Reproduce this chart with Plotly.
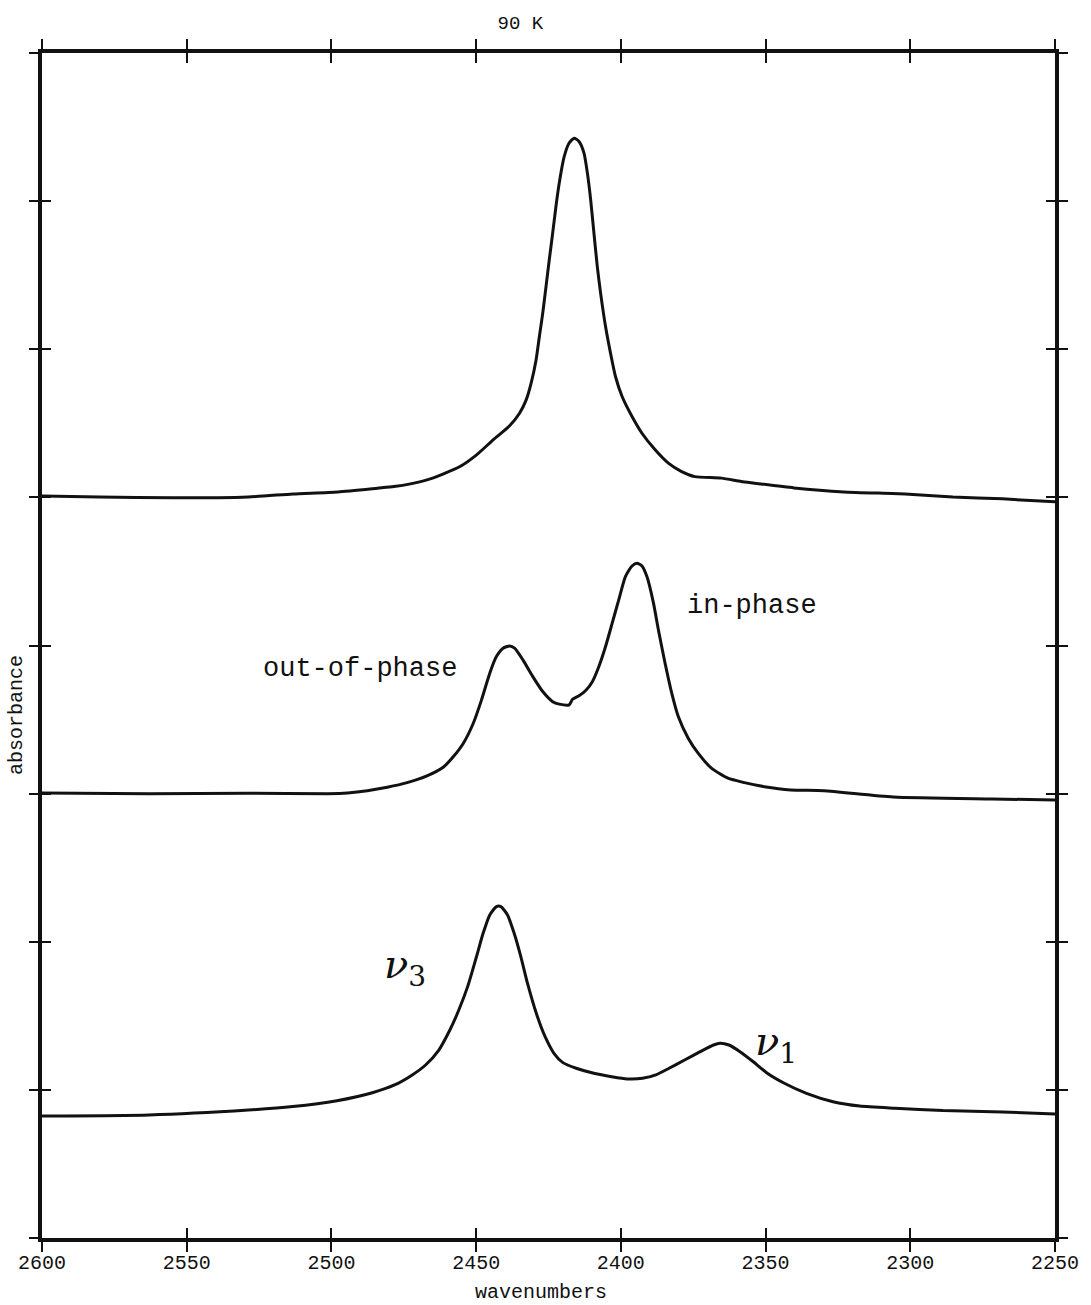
import plotly.graph_objects as go

# Spectra at 90 K, stacked with vertical offsets (absorbance, arbitrary units)
top_wn = [2600.0, 2580.1, 2554.8, 2528.7, 2513.3, 2497.8, 2484.13, 2478.41, 2472.72, 2466.99,
          2461.27, 2455.58, 2449.85, 2444.13, 2438.44, 2435.01, 2432.71, 2431.0, 2429.29, 2428.15,
          2426.99, 2425.86, 2424.73, 2423.56, 2422.43, 2421.30, 2419.58, 2417.87, 2416.16, 2414.44,
          2412.73, 2411.56, 2410.43, 2409.30, 2408.14, 2407.0, 2405.29, 2403.58, 2401.86, 2399.57,
          2396.14, 2392.71, 2388.15, 2383.59, 2379.0, 2374.44, 2365.28, 2358.43, 2353.87, 2340.2,
          2323.0, 2301.8, 2285.3, 2268.2, 2250.0]
top_abs = [5.010, 5.003, 4.997, 5.003, 5.023, 5.037, 5.062, 5.073, 5.091, 5.118,
           5.159, 5.208, 5.287, 5.388, 5.483, 5.568, 5.658, 5.771, 5.928, 6.086,
           6.244, 6.423, 6.604, 6.784, 6.964, 7.121, 7.301, 7.392, 7.425, 7.403,
           7.324, 7.189, 7.009, 6.784, 6.558, 6.379, 6.153, 5.974, 5.816, 5.681,
           5.546, 5.433, 5.321, 5.231, 5.174, 5.140, 5.130, 5.107, 5.096, 5.064,
           5.037, 5.023, 5.003, 4.990, 4.970]

mid_wn = [2600.0, 2563.0, 2528.7, 2501.27, 2494.42, 2487.56, 2480.71, 2473.85, 2466.99, 2461.27,
          2457.84, 2454.41, 2450.99, 2448.14, 2445.29, 2443.0, 2440.70, 2438.44, 2436.72, 2433.85,
          2430.42, 2426.99, 2423.56, 2421.30, 2417.87, 2416.70, 2414.44, 2412.15, 2409.85, 2407.59,
          2405.29, 2402.99, 2400.73, 2398.43, 2396.14, 2394.42, 2392.71, 2391.0, 2388.73, 2387.02,
          2384.72, 2382.42, 2380.16, 2376.73, 2373.31, 2368.71, 2363.02, 2357.30, 2350.44, 2341.29,
          2329.87, 2305.9, 2271.6, 2250.0]
mid_abs = [3.005, 3.000, 3.003, 3.000, 3.005, 3.020, 3.043, 3.074, 3.120, 3.180,
           3.250, 3.340, 3.475, 3.633, 3.813, 3.925, 3.982, 3.997, 3.982, 3.903,
           3.790, 3.689, 3.621, 3.604, 3.599, 3.637, 3.660, 3.696, 3.756, 3.858,
           3.993, 4.151, 4.308, 4.465, 4.537, 4.556, 4.537, 4.465, 4.286, 4.105,
           3.880, 3.678, 3.520, 3.374, 3.273, 3.172, 3.104, 3.074, 3.047, 3.025,
           3.020, 2.978, 2.964, 2.957]

bot_wn = [2600.0, 2563.0, 2528.70, 2513.41, 2498.09, 2485.85, 2478.20, 2472.07, 2467.47, 2462.88,
          2459.08, 2455.99, 2452.94, 2449.89, 2447.59, 2445.29, 2443.0, 2441.45, 2439.16, 2436.86,
          2434.56, 2432.27, 2429.22, 2426.17, 2423.12, 2420.03, 2415.44, 2409.33, 2403.20, 2397.85,
          2392.50, 2387.91, 2383.32, 2377.97, 2372.59, 2367.99, 2365.73, 2362.65, 2358.84, 2354.25,
          2349.65, 2343.52, 2335.87, 2326.69, 2317.50, 2305.26, 2288.74, 2268.2, 2250.0]
bot_abs = [0.824, 0.831, 0.864, 0.887, 0.927, 0.981, 1.033, 1.101, 1.168, 1.269,
           1.404, 1.539, 1.697, 1.899, 2.057, 2.181, 2.237, 2.237, 2.181, 2.057,
           1.899, 1.720, 1.517, 1.359, 1.247, 1.184, 1.146, 1.112, 1.089, 1.074,
           1.078, 1.101, 1.146, 1.202, 1.258, 1.303, 1.315, 1.303, 1.258, 1.190,
           1.116, 1.045, 0.977, 0.920, 0.891, 0.876, 0.860, 0.851, 0.837]

x_ticks = [2600, 2550, 2500, 2450, 2400, 2350, 2300, 2250]
x_tick_text = ["2600", "2550", "2500", "2450", "2400", "2350", "2300", "2250"]
y_ticks = [0, 1, 2, 3, 4, 5, 6, 7, 8]

INK = "#111111"
MONO = "Liberation Mono, Courier New, monospace"

fig = go.Figure()
for wn, ab in [(top_wn, top_abs), (mid_wn, mid_abs), (bot_wn, bot_abs)]:
    fig.add_trace(go.Scatter(x=wn, y=ab, mode="lines",
                             line=dict(color=INK, width=3, shape="spline", smoothing=0.6),
                             showlegend=False, hoverinfo="skip"))

# invisible trace that anchors the overlay axes carrying the inward tick marks
fig.add_trace(go.Scatter(x=[2600], y=[0], xaxis="x2", yaxis="y2", mode="markers",
                         marker=dict(opacity=0), showlegend=False, hoverinfo="skip"))

x_range = [2600, 2250]
y_range = [0, 8]

fig.update_layout(
    width=1091, height=1305,
    margin=dict(l=42, r=28, t=53, b=67),
    paper_bgcolor="white", plot_bgcolor="white",
    font=dict(family=MONO, color=INK),
    xaxis=dict(range=x_range, tickmode="array", tickvals=x_ticks, ticktext=x_tick_text,
               ticks="outside", ticklen=10, tickwidth=2, tickcolor=INK,
               ticklabelstandoff=-7,
               showline=True, linewidth=3.5, linecolor=INK, mirror="ticks",
               showgrid=False, zeroline=False,
               tickfont=dict(family=MONO, size=20, color=INK)),
    yaxis=dict(range=y_range, tickmode="array", tickvals=y_ticks, showticklabels=False,
               ticks="outside", ticklen=9, tickwidth=2, tickcolor=INK,
               showline=True, linewidth=3.5, linecolor=INK, mirror="ticks",
               showgrid=False, zeroline=False),
    xaxis2=dict(range=x_range, overlaying="x", tickmode="array", tickvals=x_ticks,
                showticklabels=False, ticks="inside", ticklen=10, tickwidth=2, tickcolor=INK,
                mirror="ticks", showline=False, showgrid=False, zeroline=False),
    yaxis2=dict(range=y_range, overlaying="y", tickmode="array", tickvals=y_ticks,
                showticklabels=False, ticks="inside", ticklen=9, tickwidth=2, tickcolor=INK,
                mirror="ticks", showline=False, showgrid=False, zeroline=False),
    title=dict(text="90 K", x=0.477, xanchor="center", y=0.983, yanchor="middle",
               font=dict(family=MONO, size=19, color=INK)),
)

# axis captions
fig.add_annotation(xref="paper", yref="paper", x=0.4927, y=-0.0456, text="wavenumbers",
                   showarrow=False, xanchor="center", yanchor="middle",
                   font=dict(family=MONO, size=20, color=INK))
fig.add_annotation(xref="paper", yref="paper", x=-0.0245, y=0.4414, text="absorbance",
                   showarrow=False, textangle=-90, xanchor="center", yanchor="middle",
                   font=dict(family=MONO, size=20, color=INK))

# band labels
fig.add_annotation(x=2490.0, y=3.84, text="out-of-phase", showarrow=False,
                   font=dict(family=MONO, size=27, color=INK))
fig.add_annotation(x=2354.8, y=4.27, text="in-phase", showarrow=False,
                   font=dict(family=MONO, size=27, color=INK))
fig.add_annotation(x=2474.5, y=1.83, text="<i>ν</i><sub>3</sub>", showarrow=False,
                   font=dict(family="DejaVu Serif, serif", size=40, color=INK))
fig.add_annotation(x=2346.5, y=1.31, text="<i>ν</i><sub>1</sub>", showarrow=False,
                   font=dict(family="DejaVu Serif, serif", size=40, color=INK))

fig.write_html("out.html")
